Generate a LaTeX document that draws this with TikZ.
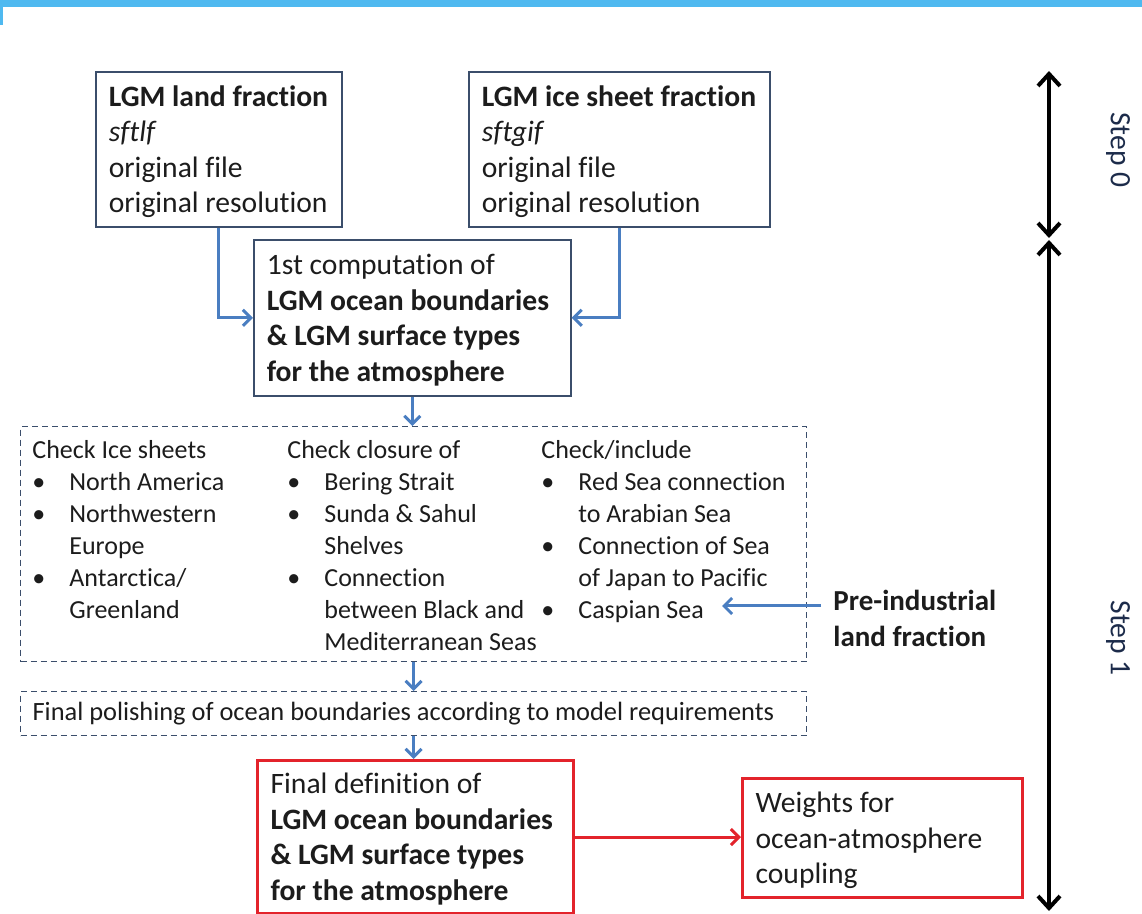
\documentclass[tikz,border=0pt]{standalone}
\usepackage{fontspec}
\setmainfont{Carlito}[Ligatures=NoCommon]
\usepackage{xcolor}
\usetikzlibrary{positioning}
\usetikzlibrary{calc}
\usetikzlibrary{arrows.meta}

\setlength{\parindent}{0pt}

\definecolor{topbar}{HTML}{4FB9F0}
\definecolor{flowblue}{HTML}{4A7EC1}
\definecolor{boxline}{HTML}{3B4E6B}
\definecolor{finalred}{HTML}{E3232B}
\definecolor{steptext}{HTML}{1C2B4A}
\definecolor{bodytext}{HTML}{1C1C1C}

\newcommand{\bul}[1]{\makebox[18.5pt][l]{\textbullet}#1}
\newcommand{\cont}[1]{\hspace*{18.5pt}#1}
\newcommand{\boxlines}[1]{\begin{tabular}{@{}l@{}}\noalign{\vskip3pt}#1\end{tabular}}

\tikzset{
	mainbox/.style={
		draw=boxline,
		line width=0.8pt,
		anchor=north west,
		inner xsep=6.5pt,
		inner ysep=0pt,
		align=flush left,
		text=bodytext,
		font=\fontsize{14.8}{17.75}\selectfont
	},
	redbox/.style={mainbox, draw=finalred, line width=1.6pt},
	checkframe/.style={
		draw=boxline,
		line width=0.6pt,
		dash pattern=on 3pt off 2pt,
		anchor=north west,
		inner sep=0pt
	},
	listtext/.style={
		anchor=north west,
		inner sep=0pt,
		align=left,
		text=bodytext,
		font=\fontsize{13}{16}\selectfont
	},
	flow/.style={draw=flowblue, line width=1.5pt, -{Straight Barb[length=4pt,width=8pt]}},
	steparrow/.style={line width=2pt, {Straight Barb[length=6pt,width=11pt]}-{Straight Barb[length=6pt,width=11pt]}},
	steplabel/.style={rotate=-90, text=steptext, font=\fontsize{14.8}{17.75}\selectfont}
}

\begin{document}
\begin{tikzpicture}[x=0.5pt, y=-0.5pt]

\useasboundingbox (0,0) rectangle (1142,914);

\fill[topbar] (0,0) rectangle (1142,7);
\fill[topbar] (0,0) rectangle (3,25);

\node[
	mainbox,
	text width=110pt,
	minimum height=77.5pt
] (land) at (95,71) {\boxlines{\textbf{LGM land fraction}\\\textit{sftlf}\\original file\\original resolution}};

\node[
	mainbox,
	text width=137.5pt,
	minimum height=77.5pt
] (ice) at (468,71) {\boxlines{\textbf{LGM ice sheet fraction}\\\textit{sftgif}\\original file\\original resolution}};

\node[
	mainbox,
	text width=145.5pt,
	minimum height=78pt
] (comp) at (253,239) {\boxlines{1st computation of\\\textbf{LGM ocean boundaries}\\\textbf{\& LGM surface types}\\\textbf{for the atmosphere}}};

\node[
	checkframe,
	minimum width=393pt,
	minimum height=117.5pt
] (checks) at (20,426) {};

\node[listtext] (icecheck) at (32,440) {Check Ice sheets\\\bul{North America}\\\bul{Northwestern}\\\cont{Europe}\\\bul{Antarctica/}\\\cont{Greenland}};

\node[listtext] (closure) at (287,440) {Check closure of\\\bul{Bering Strait}\\\bul{Sunda \& Sahul}\\\cont{Shelves}\\\bul{Connection}\\\cont{between Black and}\\\cont{Mediterranean Seas}};

\node[listtext] (include) at (541,440) {Check/include\\\bul{Red Sea connection}\\\cont{to Arabian Sea}\\\bul{Connection of Sea}\\\cont{of Japan to Pacific}\\\bul{Caspian Sea}};

\coordinate (caspian) at (722,606);

\node[
	anchor=north west,
	inner xsep=6pt,
	inner ysep=0pt,
	align=left,
	text=bodytext,
	font=\fontsize{14.5}{18}\selectfont\bfseries
] (preind) at (821,590) {Pre-industrial\\land fraction};

\node[
	checkframe,
	minimum width=393pt,
	minimum height=22pt,
	inner xsep=6pt,
	text width=381pt,
	align=flush left,
	text=bodytext,
	font=\fontsize{13.2}{16}\selectfont
] (polish) at (20,691) {Final polishing of ocean boundaries according to model requirements};

\node[
	redbox,
	text width=145pt,
	minimum height=76.5pt
] (final) at (256,759) {\boxlines{Final definition of\\\textbf{LGM ocean boundaries}\\\textbf{\& LGM surface types}\\\textbf{for the atmosphere}}};

\node[
	redbox,
	text width=127pt,
	minimum height=59.5pt
] (weights) at (741,777) {\boxlines{Weights for\\ocean-atmosphere\\coupling}};

\draw[flow] (land.south) |- (comp.west);
\draw[flow] (ice.south) |- (comp.east);
\draw[flow] (comp.south) -- (comp.south |- checks.north);
\draw[flow] (preind.west |- caspian) -- (caspian);
\draw[flow] (checks.south) -- (checks.south |- polish.north);
\draw[flow] (polish.south) -- (polish.south |- final.north);
\draw[flow, draw=finalred] (final.east) -- (final.east -| weights.west);

\coordinate (s0top) at (1049,71);
\coordinate (s0bot) at (1049,238);
\coordinate (s1top) at (1049,240);
\coordinate (s1bot) at (1049,911);

\draw[steparrow] (s0top) -- (s0bot);
\draw[steparrow] (s1top) -- (s1bot);

\node[steplabel] (step0) at (1118,150) {Step 0};
\node[steplabel] (step1) at (1118,638) {Step 1};

\end{tikzpicture}
\end{document}
